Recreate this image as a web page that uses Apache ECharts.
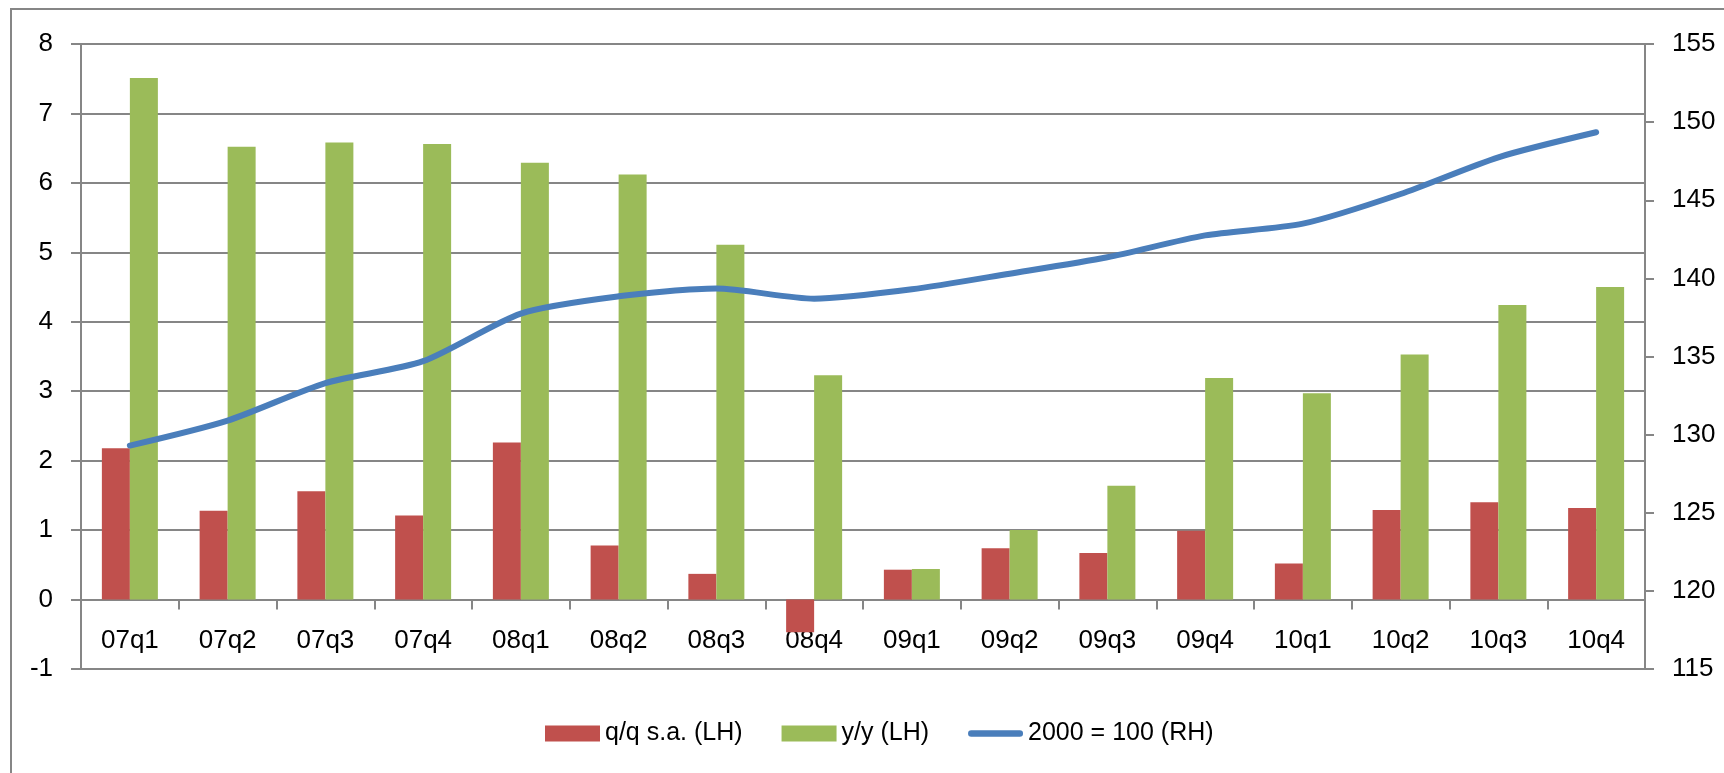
<!DOCTYPE html>
<html>
<head>
<meta charset="utf-8">
<title>GDP q/q, y/y and index</title>
<script src="https://cdn.jsdelivr.net/npm/echarts/dist/echarts.min.js"></script>
<style>
    html, body { margin: 0; padding: 0; background: #fff; }
    #j-chart { width: 1724px; height: 773px; }
</style>
</head>
<body>
<div id="j-chart"></div>
<script>
// quarters on the x axis
var categories = ['07q1', '07q2', '07q3', '07q4', '08q1', '08q2', '08q3', '08q4',
                  '09q1', '09q2', '09q3', '09q4', '10q1', '10q2', '10q3', '10q4'];
// q/q s.a. (left axis)
var qoqValues = [2.18, 1.28, 1.56, 1.21, 2.26, 0.78, 0.37, -0.47,
                 0.43, 0.74, 0.67, 0.99, 0.52, 1.29, 1.40, 1.32];
// y/y (left axis)
var yoyValues = [7.51, 6.52, 6.58, 6.56, 6.29, 6.12, 5.11, 3.23,
                 0.44, 1.00, 1.64, 3.19, 2.97, 3.53, 4.24, 4.50];
// 2000 = 100 (right axis)
var indexValues = [129.3, 130.9, 133.3, 134.7, 137.75, 138.85, 139.35, 138.7,
                   139.3, 140.3, 141.35, 142.75, 143.5, 145.4, 147.75, 149.35];

(function(){
    var font = 'Liberation Sans, Arial, sans-serif';
    var gray = '#868686';

    var option = {
        backgroundColor: '#fff',
        animation: false,
        textStyle: { fontFamily: font },
        graphic: [{
            type: 'rect',
            shape: { x: 11, y: 9, width: 1800, height: 900 },
            style: { fill: 'none', stroke: gray, lineWidth: 2 },
            silent: true,
            z: -10
        }],
        grid: {
            left: 81,
            right: 79,
            top: 44,
            bottom: 104,
            containLabel: false,
            outerBoundsMode: 'none'
        },
        legend: {
            left: 540,
            top: 716,
            itemWidth: 55,
            itemHeight: 16,
            itemGap: 39,
            textStyle: { fontFamily: font, fontSize: 25, color: '#000' },
            data: [
                { name: 'q/q s.a. (LH)', icon: 'rect' },
                { name: 'y/y (LH)', icon: 'rect' },
                {
                    name: '2000 = 100 (RH)',
                    icon: 'path://M3.5,0 H56.5 A3.5,3.5 0 0 1 56.5,7 H3.5 A3.5,3.5 0 0 1 3.5,0 Z',
                    itemStyle: { color: '#4a7ebb', borderWidth: 0 }
                }
            ]
        },
        xAxis: {
            type: 'category',
            data: categories,
            boundaryGap: true,
            axisLine: { onZero: true, onZeroAxisIndex: 0, lineStyle: { color: gray, width: 2 } },
            axisTick: { show: true, length: 10, inside: false, lineStyle: { color: gray, width: 2 } },
            axisLabel: { color: '#000', fontSize: 26, fontFamily: font, margin: -41 },
            splitLine: { show: false }
        },
        yAxis: [{
            type: 'value',
            position: 'left',
            min: -1,
            max: 8,
            interval: 1,
            axisLine: { show: true, lineStyle: { color: gray, width: 2 } },
            axisTick: { show: true, length: 10, lineStyle: { color: gray, width: 2 } },
            axisLabel: { color: '#000', fontSize: 26, fontFamily: font, margin: 28 },
            splitLine: { show: true, lineStyle: { color: gray, width: 2 } }
        }, {
            type: 'value',
            position: 'right',
            min: 115,
            max: 155,
            interval: 5,
            axisLine: { show: true, lineStyle: { color: gray, width: 2 } },
            axisTick: { show: true, length: 9, lineStyle: { color: gray, width: 2 } },
            axisLabel: { color: '#000', fontSize: 26, fontFamily: font, margin: 27 },
            splitLine: { show: false }
        }],
        series: [{
            name: 'q/q s.a. (LH)',
            type: 'bar',
            yAxisIndex: 0,
            data: qoqValues,
            barWidth: 28,
            barGap: '0%',
            itemStyle: { color: '#c0504d' }
        }, {
            name: 'y/y (LH)',
            type: 'bar',
            yAxisIndex: 0,
            data: yoyValues,
            barWidth: 28,
            barGap: '0%',
            itemStyle: { color: '#9bbb59' }
        }, {
            name: '2000 = 100 (RH)',
            type: 'line',
            yAxisIndex: 1,
            data: indexValues,
            smooth: 0.25,
            symbol: 'none',
            lineStyle: { color: '#4a7ebb', width: 6, cap: 'round' },
            itemStyle: { color: '#4a7ebb' },
            z: 5
        }]
    };

    var myChart = echarts.init(document.getElementById('j-chart'));
    myChart.setOption(option);
})();
</script>
</body>
</html>
